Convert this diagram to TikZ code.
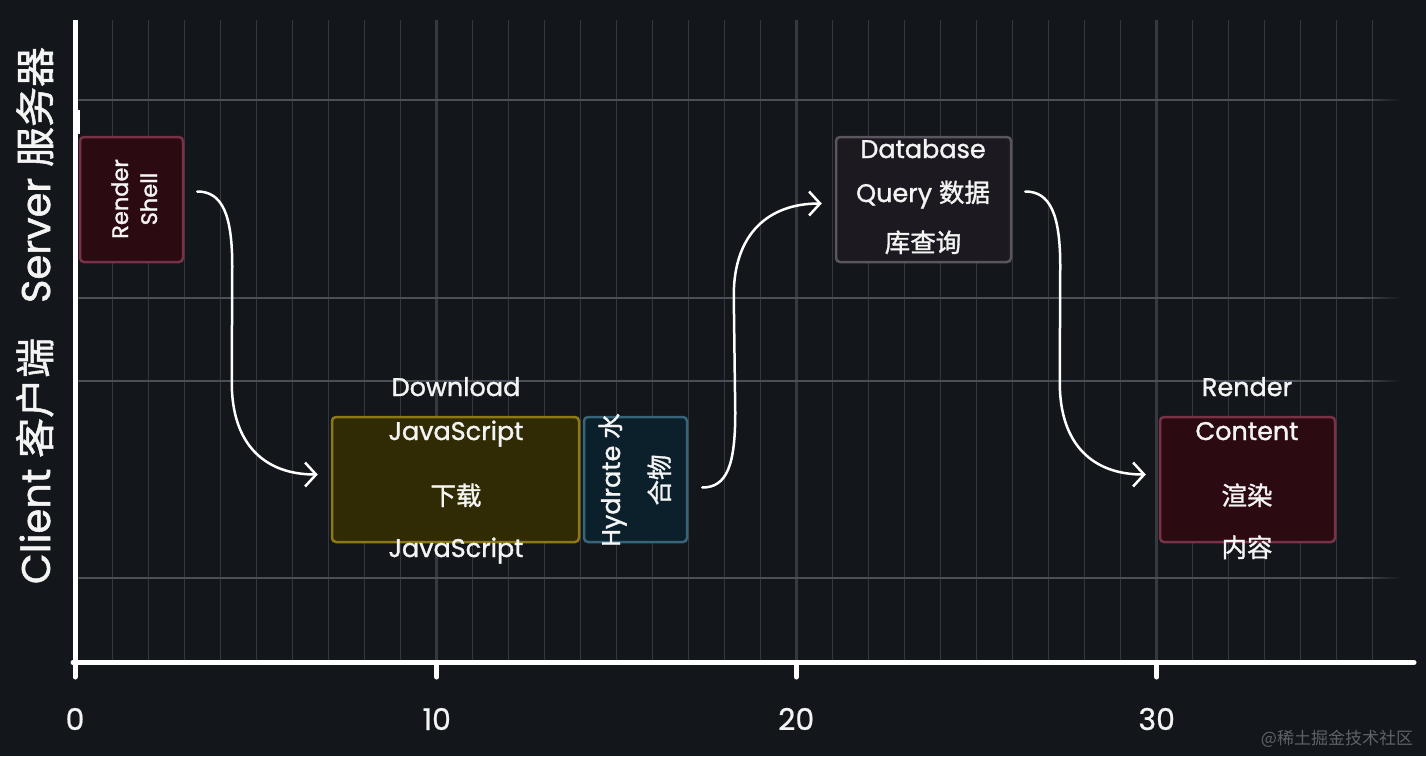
\documentclass[tikz,border=0pt]{standalone}
\usepackage{fontspec}
\setmainfont{Poppins}[FakeBold=1.3]
\newfontfamily\cjk{Noto Sans CJK SC}[FakeBold=1.3]
\newfontfamily\plainfont{Poppins}[FakeBold=0.6]
\newfontfamily\wmfont{Noto Sans CJK SC}
\usetikzlibrary{arrows.meta,calc}
\definecolor{bg}{HTML}{13161B}
\definecolor{vgridc}{HTML}{34383E}
\definecolor{vmajorc}{HTML}{363A40}
\definecolor{hgridc}{HTML}{4B5058}
\definecolor{redfill}{HTML}{2B0A12}
\definecolor{redline}{HTML}{783246}
\definecolor{yelfill}{HTML}{302A05}
\definecolor{yelline}{HTML}{8C7814}
\definecolor{tealfill}{HTML}{0C202C}
\definecolor{tealline}{HTML}{376478}
\definecolor{grayfill}{HTML}{1C1A20}
\definecolor{grayline}{HTML}{5A555F}
\definecolor{txt}{HTML}{F4F4F4}
\definecolor{wmc}{HTML}{5E626A}
\begin{document}
\begin{tikzpicture}[x=1pt,y=-1pt,
  lanebox/.style={draw, line width=2.5pt, rounded corners=4pt, minimum height=125pt, inner sep=0pt},
  lbl/.style={text=txt, font=\fontsize{25.5}{28}\selectfont, inner sep=0pt, anchor=base},
  vlbl/.style={lbl, rotate=90},
  axislbl/.style={text=txt, font=\fontsize{40}{44}\selectfont, inner sep=0pt, anchor=base, rotate=90},
  ticklbl/.style={text=txt, font=\plainfont\fontsize{30}{34}\selectfont, inner sep=0pt, anchor=base},
  flow/.style={draw=white, line width=2.5pt, line cap=round, -{Straight Barb[length=11pt,width=24pt]}},
  vgrid/.style={draw=vgridc, line width=1.5pt},
  vmajor/.style={draw=vmajorc, line width=2.5pt},
  hgrid/.style={draw=hgridc, line width=2pt},
  axis/.style={draw=white, line width=5pt},
  tick/.style={draw=white, line width=5pt, line cap=round}]
\useasboundingbox (0,0) rectangle (1426,756);
\fill[bg] (0,0) rectangle (1426,756);
% vertical grid
\foreach \i in {1,...,36}{
  \pgfmathsetmacro\xx{76.7+36*\i}
  \ifnum\i=10 \draw[vmajor] (\xx,20) -- (\xx,660);
  \else\ifnum\i=20 \draw[vmajor] (\xx,20) -- (\xx,660);
  \else\ifnum\i=30 \draw[vmajor] (\xx,20) -- (\xx,660);
  \else \draw[vgrid] (\xx,20) -- (\xx,660);
  \fi\fi\fi
}
% horizontal grid (lane borders), fading out to the right
\foreach \yy in {100,298,381,578}{
  \draw[hgrid] (78,\yy) -- (1362,\yy);
  \foreach \k in {0,...,9}{
    \pgfmathsetmacro\op{1-(\k+0.5)/10}
    \draw[hgrid, draw opacity=\op] (1362+4*\k,\yy) -- (1366+4*\k,\yy);
  }
}
% axes
\draw[axis] (75,20) -- (75,665);
\fill[white] (77,110) rectangle (79.5,134);
\draw[axis, line cap=round] (73,662.5) -- (1414,662.5);
\foreach \t/\xx in {0/75,10/436.7,20/796.2,30/1156.7}{
  \draw[tick] (\xx,664) -- (\xx,677);
  \node[ticklbl] (t\t) at (\xx,730) {\t};
}
% axis labels
\node[axislbl] (ys) at (50,175) {Server {\cjk 服务器}};
\node[axislbl] (yc) at (50,461) {Client {\cjk 客户端}};
% boxes
\node[lanebox, draw=redline, fill=redfill, minimum width=103pt] (rs) at (131.5,199.5) {};
\node[lanebox, draw=yelline, fill=yelfill, minimum width=247pt] (dl) at (455.5,479.5) {};
\node[lanebox, draw=tealline, fill=tealfill, minimum width=103pt] (hy) at (635.5,479.5) {};
\node[lanebox, draw=grayline, fill=grayfill, minimum width=175pt] (db) at (923.5,199.5) {};
\node[lanebox, draw=redline, fill=redfill, minimum width=175pt] (rc) at (1247.5,479.5) {};
% texts
\node[vlbl, font=\fontsize{22.5}{26}\selectfont] (rs1) at (128,199) {Render};
\node[vlbl, font=\fontsize{22.5}{26}\selectfont] (rs2) at (157,199) {Shell};
\node[lbl] (dl1) at (456,396) {Download};
\node[lbl] (dl2) at (456,440) {JavaScript};
\node[lbl] (dl3) at (456,505) {\cjk 下载};
\node[lbl] (dl4) at (456,557) {JavaScript};
\node[vlbl] (hy1) at (620,480) {Hydrate {\cjk 水}};
\node[vlbl] (hy2) at (669,480) {\cjk 合物};
\node[lbl] (db1) at (923,158) {Database};
\node[lbl] (db2) at (923,202) {Query {\cjk 数据}};
\node[lbl] (db3) at (923,252) {\cjk 库查询};
\node[lbl] (rc1) at (1247,396) {Render};
\node[lbl] (rc2) at (1247,440) {Content};
\node[lbl] (rc3) at (1247,505) {\cjk 渲染};
\node[lbl] (rc4) at (1247,557) {\cjk 内容};
% watermark
\node[inner sep=0pt, anchor=base, text=wmc, font=\wmfont\fontsize{17}{20}\selectfont] (wm) at (1337,744) {@稀土掘金技术社区};
% connectors
\coordinate (a1s) at ($(rs.east)+(13,-8)$);
\coordinate (a1e) at ($(dl.west)+(-13,-5)$);
\coordinate (a2s) at ($(hy.east)+(14,8)$);
\coordinate (a2e) at ($(db.west)+(-13,4)$);
\coordinate (a3s) at ($(db.east)+(13,-8)$);
\coordinate (a3e) at ($(rc.west)+(-13,-5)$);
\draw[flow] (a1s) .. controls +(25,0) and +(0,-52) .. ($(a1s)+(35,75)$) -- ($(a1e)+(-86,-92)$) .. controls +(0,62) and +(-53,0) .. (a1e);
\draw[flow] (a2s) .. controls +(25,0) and +(0,52) .. ($(a2s)+(33,-75)$) -- ($(a2e)+(-88,92)$) .. controls +(0,-62) and +(-53,0) .. (a2e);
\draw[flow] (a3s) .. controls +(25,0) and +(0,-52) .. ($(a3s)+(35,75)$) -- ($(a3e)+(-86,-92)$) .. controls +(0,62) and +(-53,0) .. (a3e);
\end{tikzpicture}
\end{document}
